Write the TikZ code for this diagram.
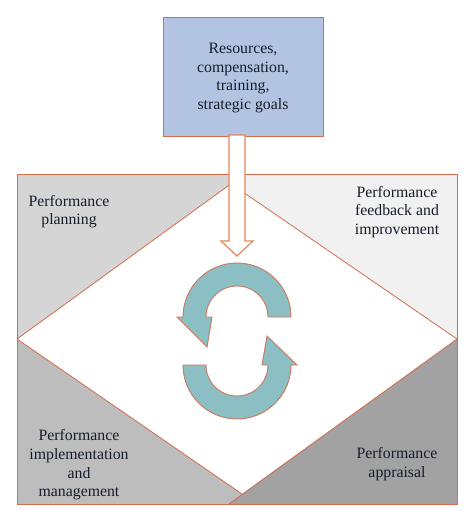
\documentclass[tikz,border=0pt]{standalone}
\usepackage{fontspec}
\setmainfont{Liberation Serif}
\definecolor{edgeor}{HTML}{D66C4A}
\definecolor{arrowor}{HTML}{E2875A}
\definecolor{boxblue}{HTML}{B2C4E2}
\definecolor{teal1}{HTML}{8BBFC3}
\definecolor{gtl}{HTML}{D5D5D6}
\definecolor{gtr}{HTML}{F1F1F2}
\definecolor{gbl}{HTML}{BDBDBE}
\definecolor{gbr}{HTML}{A2A2A3}
\definecolor{ink}{HTML}{161C2A}
\tikzset{
  lbl/.style={align=center,text=ink,font=\fontsize{15.8}{18.7}\selectfont,inner sep=0pt},
  edge/.style={draw=edgeor,line width=0.8pt,line join=miter},
  cyc/.style={draw=edgeor!85!teal1,fill=teal1,line width=0.9pt,line join=miter}
}
\begin{document}
\begin{tikzpicture}[x=1pt,y=-1pt]
\useasboundingbox (0,0) rectangle (474,522);
\fill[white] (0,0) rectangle (474,522);
% corner regions
\fill[gtl] (17,174) -- (232,174) -- (232,183) -- (17,339) -- cycle;
\fill[gtr] (242,174) -- (457,174) -- (457,339) -- (245,193) -- (242,190) -- cycle;
\fill[gbl] (17,339) -- (242,494) -- (229,504) -- (17,504) -- cycle;
\fill[gbr] (457,339) -- (457,504) -- (229,504) -- (242,494) -- cycle;
% diamond edges and frame
\draw[edge] (17,339) -- (232,183);
\draw[edge] (457,339) -- (240,190);
\draw[edge] (17,339) -- (242,494);
\draw[edge] (457,339) -- (229,504);
\draw[edge,line width=1pt] (17,174) rectangle (457,504);
% top box
\node[draw=edgeor,fill=boxblue,line width=1.2pt,minimum width=160pt,minimum height=119pt,inner sep=0pt,anchor=north west] (res) at (163,17) {};
\node[lbl] (restext) at (243,78) {Resources,\\compensation,\\training,\\strategic goals};
% input block arrow
\draw[draw=arrowor,fill=white,line width=1.2pt,line join=miter] (229,135) -- (245,135) -- (245,241) -- (253,241) -- (237,256) -- (221,241) -- (229,241) -- cycle;
% cycle arrows
\draw[cyc] (291,317) arc[start angle=0,end angle=-180,x radius=54pt,y radius=-54pt] -- (177,317) -- (207,347) -- (212,317) -- (206,317)
  arc[start angle=180,end angle=0,x radius=31pt,y radius=31pt] -- cycle;
\draw[cyc] (183,365) arc[start angle=180,end angle=360,x radius=54pt,y radius=54pt] -- (297,365) -- (267,336) -- (262,365) -- (268,365)
  arc[start angle=0,end angle=180,x radius=31pt,y radius=-31pt] -- cycle;
% labels
\node[lbl] (plan) at (69,211.5) {Performance\\planning};
\node[lbl] (feed) at (397,212) {Performance\\feedback and\\improvement};
\node[lbl] (impl) at (79,465) {Performance\\implementation\\and\\management};
\node[lbl] (appr) at (397,464) {Performance\\appraisal};
\end{tikzpicture}
\end{document}
